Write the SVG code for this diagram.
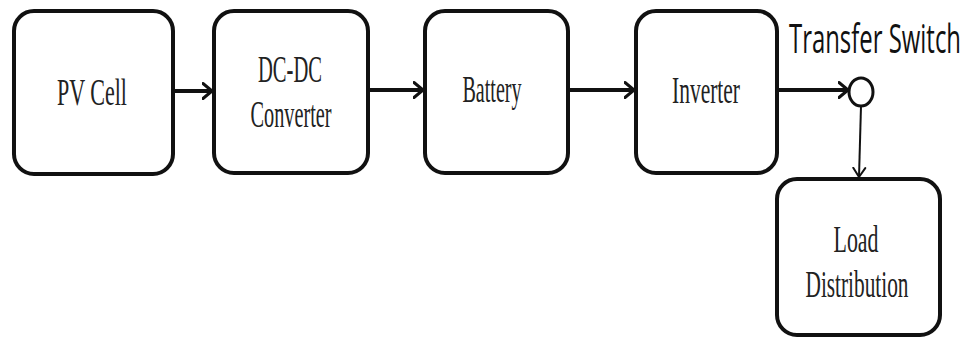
<svg xmlns="http://www.w3.org/2000/svg" width="968" height="338" viewBox="0 0 968 338">
  <defs>
    <marker id="arrow" viewBox="0 0 12 18" refX="10" refY="9" markerWidth="12" markerHeight="18" markerUnits="userSpaceOnUse" orient="auto">
      <path d="M1,1.5 L10,9 L1,16.5" fill="none" stroke="#111" stroke-width="3" stroke-linecap="round" stroke-linejoin="round"/>
    </marker>
    <marker id="arrow-thin" viewBox="0 0 12 16" refX="10" refY="8" markerWidth="12" markerHeight="16" markerUnits="userSpaceOnUse" orient="auto">
      <path d="M1,2 L10,8 L1,14" fill="none" stroke="#111" stroke-width="2" stroke-linecap="round" stroke-linejoin="round"/>
    </marker>
  </defs>
  <style>
    .box { fill: #fff; stroke: #111; stroke-width: 4; }
    .label { font-family: "Liberation Serif", "Times New Roman", serif; font-size: 37px; fill: #222; text-anchor: middle; }
    .title { font-family: "Open Sans", "Liberation Sans", sans-serif; font-size: 40px; fill: #111; }
    .link { fill: none; stroke: #111; stroke-width: 4; }
    .link-thin { fill: none; stroke: #111; stroke-width: 2; }
  </style>
  <rect width="968" height="338" fill="#fff"/>

  <g id="pv-cell">
    <rect class="box" x="14" y="11" width="159" height="163" rx="20"/>
    <text class="label" x="92" y="105" textLength="70" lengthAdjust="spacingAndGlyphs">PV Cell</text>
  </g>

  <g id="dc-dc-converter">
    <rect class="box" x="214" y="11" width="154" height="162" rx="20"/>
    <text class="label" x="290" y="82" textLength="64" lengthAdjust="spacingAndGlyphs">DC-DC</text>
    <text class="label" x="291" y="127" textLength="81" lengthAdjust="spacingAndGlyphs">Converter</text>
  </g>

  <g id="battery">
    <rect class="box" x="425" y="11" width="143" height="162" rx="20"/>
    <text class="label" x="492" y="102" textLength="59" lengthAdjust="spacingAndGlyphs">Battery</text>
  </g>

  <g id="inverter">
    <rect class="box" x="636" y="11" width="141" height="162" rx="20"/>
    <text class="label" x="706" y="103" textLength="68" lengthAdjust="spacingAndGlyphs">Inverter</text>
  </g>

  <g id="transfer-switch">
    <text class="title" x="789" y="53" textLength="172" lengthAdjust="spacingAndGlyphs">Transfer Switch</text>
    <ellipse cx="861" cy="92" rx="12" ry="14" fill="#fff" stroke="#111" stroke-width="3"/>
  </g>

  <g id="load-distribution">
    <rect class="box" x="777" y="179" width="163" height="156" rx="20"/>
    <text class="label" x="856" y="252" textLength="45" lengthAdjust="spacingAndGlyphs">Load</text>
    <text class="label" x="857" y="297" textLength="103" lengthAdjust="spacingAndGlyphs">Distribution</text>
  </g>

  <g id="connectors">
    <line class="link" x1="175" y1="91" x2="212" y2="91" marker-end="url(#arrow)"/>
    <line class="link" x1="370" y1="90" x2="423" y2="90" marker-end="url(#arrow)"/>
    <line class="link" x1="570" y1="90" x2="634" y2="90" marker-end="url(#arrow)"/>
    <line class="link" x1="779" y1="90" x2="848" y2="90" marker-end="url(#arrow)"/>
    <line class="link-thin" x1="861" y1="106" x2="859" y2="177" marker-end="url(#arrow-thin)"/>
  </g>
</svg>
